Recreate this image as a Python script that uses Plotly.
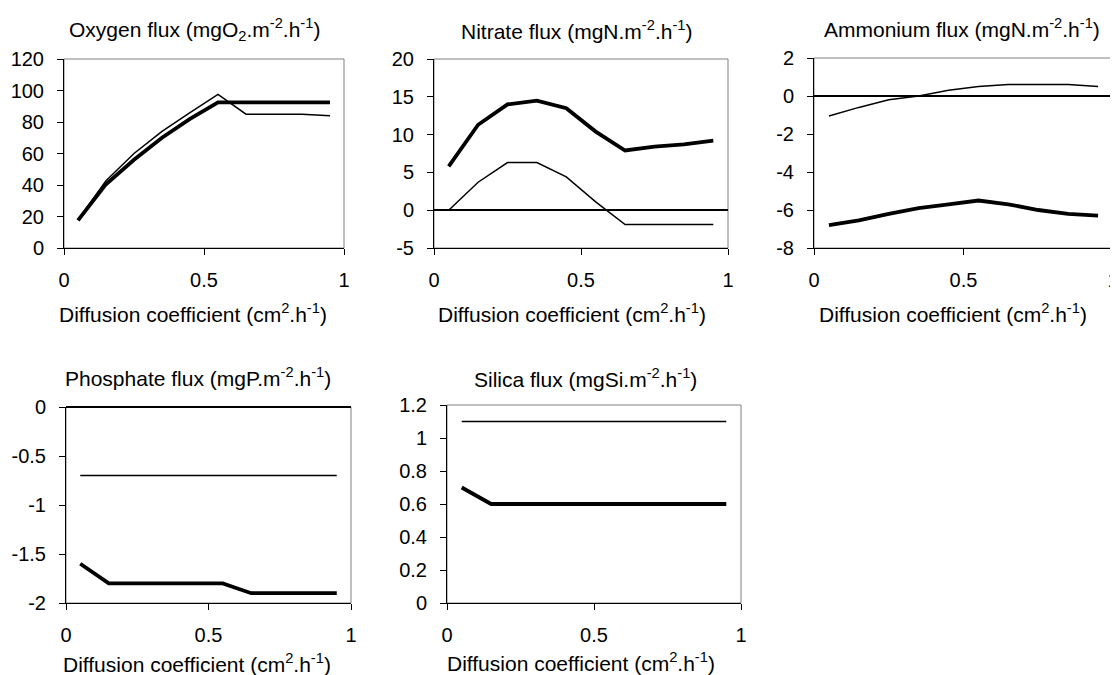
import plotly.graph_objects as go

# the page body keeps its default 8px margin, so the figure sits 8px in
OFF = 8
W, H = 1118 - OFF, 675 - OFF

# diffusion coefficient (cm2.h-1)
diff_coef = [0.05, 0.15, 0.25, 0.35, 0.45, 0.55, 0.65, 0.75, 0.85, 0.95]

oxygen_thick = [17.5, 40.5, 56, 70, 82, 92.5, 92.5, 92.5, 92.5, 92.5]
oxygen_thin = [18, 42.7, 60, 74, 86, 97.5, 85, 85, 85, 84]

nitrate_thick = [5.8, 11.3, 14, 14.5, 13.5, 10.4, 7.9, 8.4, 8.7, 9.2]
nitrate_thin = [0, 3.7, 6.3, 6.3, 4.4, 1.1, -1.9, -1.9, -1.9, -1.9]

ammonium_thick = [-6.8, -6.55, -6.2, -5.9, -5.7, -5.5, -5.7, -6.0, -6.2, -6.3]
ammonium_thin = [-1.05, -0.6, -0.2, 0.0, 0.3, 0.5, 0.6, 0.6, 0.6, 0.5]

phosphate_thick = [-1.6, -1.8, -1.8, -1.8, -1.8, -1.8, -1.9, -1.9, -1.9, -1.9]
phosphate_thin = [-0.7, -0.7, -0.7, -0.7, -0.7, -0.7, -0.7, -0.7, -0.7, -0.7]

silica_thick = [0.7, 0.6, 0.6, 0.6, 0.6, 0.6, 0.6, 0.6, 0.6, 0.6]
silica_thin = [1.1, 1.1, 1.1, 1.1, 1.1, 1.1, 1.1, 1.1, 1.1, 1.1]

x_ticks = [0, 0.5, 1]
x_ticktext = ["0", "0.5", "1"]

oxygen_ticks = [0, 20, 40, 60, 80, 100, 120]
nitrate_ticks = [-5, 0, 5, 10, 15, 20]
ammonium_ticks = [-8, -6, -4, -2, 0, 2]
phosphate_ticks = [-2, -1.5, -1, -0.5, 0]
silica_ticks = [0, 0.2, 0.4, 0.6, 0.8, 1, 1.2]

titles = [
    "Oxygen flux (mgO<sub>2</sub>.m<sup>-2</sup>.h<sup>-1</sup>)",
    "Nitrate flux (mgN.m<sup>-2</sup>.h<sup>-1</sup>)",
    "Ammonium flux (mgN.m<sup>-2</sup>.h<sup>-1</sup>)",
    "Phosphate flux (mgP.m<sup>-2</sup>.h<sup>-1</sup>)",
    "Silica flux (mgSi.m<sup>-2</sup>.h<sup>-1</sup>)",
]
xtitle = "Diffusion coefficient (cm<sup>2</sup>.h<sup>-1</sup>)"

panels = [
    (oxygen_thick, oxygen_thin, oxygen_ticks, False),
    (nitrate_thick, nitrate_thin, nitrate_ticks, True),
    (ammonium_thick, ammonium_thin, ammonium_ticks, True),
    (phosphate_thick, phosphate_thin, phosphate_ticks, True),
    (silica_thick, silica_thin, silica_ticks, False),
]

# plot areas in screen pixels: left, right, top, bottom
boxes = [
    (64, 344, 59, 248),
    (434, 728, 59, 248),
    (814, 1113, 58, 248),
    (66, 351, 407, 603),
    (447, 741, 405, 603),
]
title_pos = [(194, 30), (577, 30), (962, 28), (198, 377), (585, 378)]
xtitle_pos = [(193, 313), (572, 313), (953, 313), (197, 663), (581, 662)]


def px(x):
    return (x - OFF) / W


def py(y):
    return 1 - (y - OFF) / H


FONT = "Arial, Liberation Sans, sans-serif"

fig = go.Figure()
layout = {}
annotations = []
shapes = []

for i, (thick, thin, yticks, zero) in enumerate(panels):
    n = "" if i == 0 else str(i + 1)
    xa, ya = "x" + n, "y" + n
    l, r, t, b = boxes[i]

    fig.add_trace(go.Scatter(x=diff_coef, y=thin, mode="lines", xaxis=xa, yaxis=ya,
                             line=dict(color="black", width=1.5)))
    fig.add_trace(go.Scatter(x=diff_coef, y=thick, mode="lines", xaxis=xa, yaxis=ya,
                             line=dict(color="black", width=3.8)))

    layout["xaxis" + n] = dict(
        domain=[px(l), px(r)], anchor=ya, range=[0, 1],
        tickvals=x_ticks, ticktext=x_ticktext,
        showline=True, linecolor="black", linewidth=1,
        ticks="outside", ticklen=6, tickcolor="black", ticklabelstandoff=8,
        ticklabeloverflow="allow", automargin=False,
        showgrid=False, zeroline=False, fixedrange=True,
        tickfont=dict(family=FONT, size=20, color="black"),
    )
    layout["yaxis" + n] = dict(
        domain=[py(b), py(t)], anchor=xa,
        range=[yticks[0], yticks[-1]],
        tickvals=yticks, ticktext=[("%g" % v) for v in yticks],
        showline=True, linecolor="black", linewidth=1,
        ticks="outside", ticklen=6, tickcolor="black", ticklabelstandoff=9,
        automargin=False,
        showgrid=False, zeroline=zero, zerolinecolor="black", zerolinewidth=1.5,
        fixedrange=True,
        tickfont=dict(family=FONT, size=20, color="black"),
    )
    shapes.append(dict(type="rect", xref=xa + " domain", yref=ya + " domain",
                       x0=0, x1=1, y0=0, y1=1, layer="below",
                       line=dict(color="#808080", width=1)))

    tx, ty = title_pos[i]
    annotations.append(dict(text=titles[i], x=px(tx), y=py(ty), xref="paper", yref="paper",
                            showarrow=False, xanchor="center", yanchor="middle",
                            font=dict(family=FONT, size=21, color="black")))
    ax_, ay_ = xtitle_pos[i]
    annotations.append(dict(text=xtitle, x=px(ax_), y=py(ay_), xref="paper", yref="paper",
                            showarrow=False, xanchor="center", yanchor="middle",
                            font=dict(family=FONT, size=21, color="black")))

fig.update_layout(
    **layout,
    width=W, height=H,
    margin=dict(l=0, r=0, t=0, b=0),
    showlegend=False,
    plot_bgcolor="white",
    paper_bgcolor="white",
    annotations=annotations,
    shapes=shapes,
)

fig.write_html("out.html")
